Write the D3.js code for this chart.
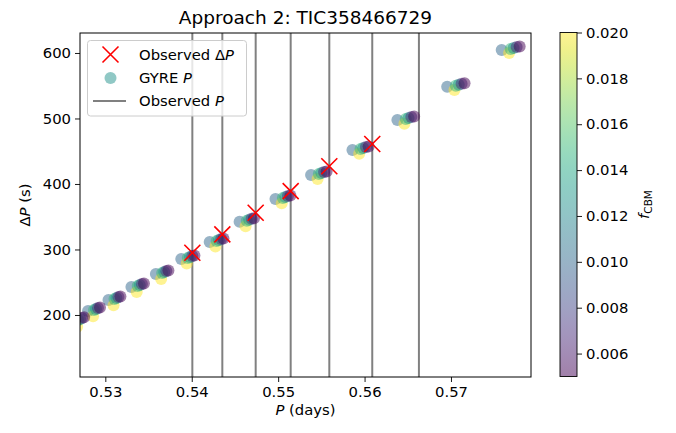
<!DOCTYPE html>
<html>
<head>
<meta charset="utf-8">
<script src="https://cdn.jsdelivr.net/npm/d3@7"></script>
<style>
body { margin: 0; background: #fff; }
text { font-family: "DejaVu Sans", sans-serif; }
</style>
</head>
<body>
<div id="chart-area"></div>
<script>
// Observed periods (days) and observed period spacings (s)
var obsP = [0.54007, 0.54354, 0.54740, 0.55145, 0.55592, 0.56089, 0.56629];
var obsDP = [295, 323, 356, 389, 427, 461];

// GYRE models, one row per f_CBM value
var fModels = [0.010, 0.020, 0.015, 0.013, 0.007, 0.005];
var gyreP = [
    [0.52616, 0.52800, 0.53037, 0.53302, 0.53585, 0.53879, 0.54208, 0.54554, 0.54969, 0.55381, 0.55860, 0.56380, 0.56956, 0.57587],
    [0.52674, 0.52858, 0.53095, 0.53363, 0.53646, 0.53942, 0.54274, 0.54623, 0.55041, 0.55456, 0.55938, 0.56461, 0.57040, 0.57673],
    [0.52685, 0.52869, 0.53106, 0.53375, 0.53658, 0.53955, 0.54288, 0.54637, 0.55055, 0.55471, 0.55953, 0.56477, 0.57056, 0.57691],
    [0.52708, 0.52892, 0.53129, 0.53399, 0.53682, 0.53980, 0.54314, 0.54665, 0.55084, 0.55501, 0.55985, 0.56509, 0.57090, 0.57725],
    [0.52731, 0.52915, 0.53152, 0.53423, 0.53706, 0.54006, 0.54341, 0.54692, 0.55113, 0.55531, 0.56016, 0.56541, 0.57123, 0.57760],
    [0.52754, 0.52938, 0.53175, 0.53447, 0.53730, 0.54031, 0.54367, 0.54720, 0.55142, 0.55561, 0.56047, 0.56574, 0.57157, 0.57795]
];
var gyreDP = [
    [191, 206.1, 222.9, 242.7, 262.6, 285.5, 311.5, 342.4, 377.1, 413.7, 451.9, 497.7, 548.5, 604.6],
    [182, 198, 215, 235, 255, 278.5, 304.5, 335.5, 370.5, 407.5, 446, 492, 543.5, 600],
    [192.5, 207.6, 224.4, 244.2, 264.1, 287, 313, 343.9, 378.6, 415.2, 453.4, 499.2, 550, 606.1],
    [194, 209.2, 226, 245.8, 265.7, 288.6, 314.6, 345.5, 380.2, 416.8, 455, 500.8, 551.6, 607.7],
    [195.5, 210.7, 227.5, 247.3, 267.2, 290.1, 316.1, 347, 381.7, 418.3, 456.5, 502.3, 553.1, 609.2],
    [196.5, 211.4, 228.2, 248, 267.9, 290.8, 316.8, 347.7, 382.4, 419, 457.2, 503, 553.8, 609.9]
];

var xTicks = [0.53, 0.54, 0.55, 0.56, 0.57];
var yTicks = [200, 300, 400, 500, 600];
var cTicks = [0.006, 0.008, 0.010, 0.012, 0.014, 0.016, 0.018, 0.020];

var fs = "14.8px";

var svg = d3.select("#chart-area")
    .append("svg")
    .attr("width", 676)
    .attr("height", 433);

var pLeft = 80, pRight = 531, pTop = 33, pBottom = 377;

// Scales
var x = d3.scaleLinear().domain([0.52707, 0.57926]).range([pLeft, pRight]);
var y = d3.scaleLinear().domain([105.3, 630.5]).range([pBottom, pTop]);
var color = d3.scaleSequential(d3.interpolateViridis).domain([0.005, 0.020]);

svg.append("clipPath").attr("id", "clip")
    .append("rect")
    .attr("x", pLeft).attr("y", pTop)
    .attr("width", pRight - pLeft).attr("height", pBottom - pTop);

var plot = svg.append("g").attr("clip-path", "url(#clip)");

// Observed periods as vertical lines
plot.selectAll(".obs-line").data(obsP)
    .enter().append("line")
    .attr("class", "obs-line")
    .attr("x1", function(d){ return x(d); })
    .attr("x2", function(d){ return x(d); })
    .attr("y1", pTop).attr("y2", pBottom)
    .attr("stroke", "#808080")
    .attr("stroke-width", 2);

// GYRE points
var points = [];
fModels.forEach(function(f, m){
    gyreP[m].forEach(function(p, i){
        points.push({ P: p, dP: gyreDP[m][i], f: f });
    });
});
plot.selectAll(".gyre").data(points)
    .enter().append("circle")
    .attr("class", "gyre")
    .attr("cx", function(d){ return x(d.P); })
    .attr("cy", function(d){ return y(d.dP); })
    .attr("r", 6)
    .attr("fill", function(d){ return color(d.f); })
    .attr("fill-opacity", 0.5);

// Observed period spacings as red crosses
plot.selectAll(".cross").data(obsDP)
    .enter().append("path")
    .attr("class", "cross")
    .attr("transform", function(d, i){ return "translate(" + x(obsP[i]) + "," + y(d) + ")"; })
    .attr("d", "M-8,-8L8,8M-8,8L8,-8")
    .attr("stroke", "#ff0000")
    .attr("stroke-width", 1.6)
    .attr("fill", "none");

// Axes
var xAxisCall = d3.axisBottom(x).tickValues(xTicks)
    .tickFormat(d3.format(".2f")).tickSize(5).tickPadding(4);
var xAxis = svg.append("g")
    .attr("transform", "translate(0," + pBottom + ")")
    .call(xAxisCall);
var yAxisCall = d3.axisLeft(y).tickValues(yTicks)
    .tickFormat(d3.format("d")).tickSize(5).tickPadding(4);
var yAxis = svg.append("g")
    .attr("transform", "translate(" + pLeft + ",0)")
    .call(yAxisCall);
[xAxis, yAxis].forEach(function(a){
    a.select(".domain").remove();
    a.selectAll("text").attr("font-size", fs).attr("fill", "#000")
        .attr("font-family", "DejaVu Sans");
    a.selectAll("line").attr("stroke", "#000").attr("stroke-width", 0.9);
});

svg.append("rect")
    .attr("x", pLeft).attr("y", pTop)
    .attr("width", pRight - pLeft).attr("height", pBottom - pTop)
    .attr("fill", "none").attr("stroke", "#000").attr("stroke-width", 1);

// Labels
svg.append("text")
    .attr("x", (pLeft + pRight) / 2).attr("y", 24)
    .attr("text-anchor", "middle")
    .attr("font-size", "18.5px")
    .text("Approach 2: TIC358466729");

var xLabel = svg.append("text")
    .attr("x", (pLeft + pRight) / 2).attr("y", 415)
    .attr("text-anchor", "middle")
    .attr("font-size", fs);
xLabel.append("tspan").attr("font-style", "italic").text("P");
xLabel.append("tspan").text(" (days)");

var yLabel = svg.append("text")
    .attr("transform", "translate(30," + (pTop + pBottom) / 2 + ") rotate(-90)")
    .attr("text-anchor", "middle")
    .attr("font-size", fs);
yLabel.append("tspan").text("Δ");
yLabel.append("tspan").attr("font-style", "italic").text("P");
yLabel.append("tspan").text(" (s)");

// Legend
var legend = svg.append("g");
legend.append("rect")
    .attr("x", 87.5).attr("y", 40.5)
    .attr("width", 159).attr("height", 75.5)
    .attr("rx", 3)
    .attr("fill", "#fff").attr("fill-opacity", 0.8)
    .attr("stroke", "#cccccc").attr("stroke-width", 1);
legend.append("path")
    .attr("transform", "translate(110.5,54.5)")
    .attr("d", "M-8,-8L8,8M-8,8L8,-8")
    .attr("stroke", "#ff0000").attr("stroke-width", 1.6);
legend.append("circle")
    .attr("cx", 110.5).attr("cy", 78).attr("r", 6)
    .attr("fill", color(0.0125)).attr("fill-opacity", 0.5);
legend.append("line")
    .attr("x1", 93).attr("x2", 126).attr("y1", 101).attr("y2", 101)
    .attr("stroke", "#808080").attr("stroke-width", 2);
var l1 = legend.append("text").attr("x", 139).attr("y", 59.5).attr("font-size", fs);
l1.append("tspan").text("Observed Δ");
l1.append("tspan").attr("font-style", "italic").text("P");
var l2 = legend.append("text").attr("x", 139).attr("y", 83).attr("font-size", fs);
l2.append("tspan").text("GYRE ");
l2.append("tspan").attr("font-style", "italic").text("P");
var l3 = legend.append("text").attr("x", 139).attr("y", 106).attr("font-size", fs);
l3.append("tspan").text("Observed ");
l3.append("tspan").attr("font-style", "italic").text("P");

// Colorbar
var cbLeft = 560, cbWidth = 17, cbTop = 32.5, cbBottom = 376.5;
var cy = d3.scaleLinear().domain([0.005, 0.020]).range([cbBottom, cbTop]);
var grad = svg.append("defs").append("linearGradient")
    .attr("id", "cbgrad")
    .attr("x1", "0").attr("y1", "1").attr("x2", "0").attr("y2", "0");
d3.range(0, 1.0001, 0.05).forEach(function(t){
    grad.append("stop")
        .attr("offset", t)
        .attr("stop-color", d3.interpolateViridis(t))
        .attr("stop-opacity", 0.5);
});
svg.append("rect")
    .attr("x", cbLeft).attr("y", cbTop)
    .attr("width", cbWidth).attr("height", cbBottom - cbTop)
    .attr("fill", "url(#cbgrad)")
    .attr("stroke", "#000").attr("stroke-width", 0.9);
var cAxis = svg.append("g")
    .attr("transform", "translate(" + (cbLeft + cbWidth) + ",0)")
    .call(d3.axisRight(cy).tickValues(cTicks).tickFormat(d3.format(".3f")).tickSize(5).tickPadding(4));
cAxis.select(".domain").remove();
cAxis.selectAll("text").attr("font-size", fs).attr("fill", "#000").attr("font-family", "DejaVu Sans");
cAxis.selectAll("line").attr("stroke", "#000").attr("stroke-width", 0.9);

var cLabel = svg.append("text")
    .attr("transform", "translate(649," + (cbTop + cbBottom) / 2 + ") rotate(-90)")
    .attr("text-anchor", "middle")
    .attr("font-size", fs);
cLabel.append("tspan").attr("font-style", "italic").text("f");
cLabel.append("tspan").attr("font-size", "10.5px").attr("dy", 3).text("CBM");
</script>
</body>
</html>
